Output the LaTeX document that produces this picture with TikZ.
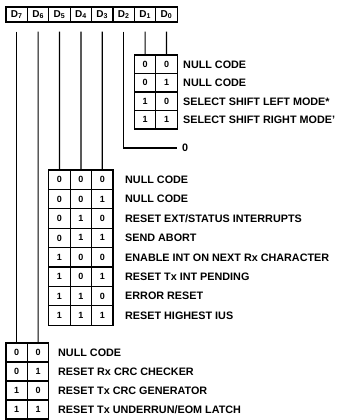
\documentclass[tikz,border=0pt]{standalone}
\usepackage{fontspec}
\setmainfont{Liberation Sans}
\begin{document}
\begin{tikzpicture}[x=1pt,y=-1pt,
  hdr/.style={draw,line width=1.3pt,minimum width=21.4pt,minimum height=15pt,inner sep=0pt,font=\bfseries\fontsize{10}{10}\selectfont},
  cell/.style={draw,line width=1.3pt,minimum width=21.4pt,minimum height=#1,inner sep=0pt,font=\bfseries\fontsize{9}{9}\selectfont},
  lbl/.style={anchor=west,inner sep=0pt,text height=7.7pt,text depth=0pt,font=\bfseries\fontsize{10.8}{11}\selectfont},
  wire/.style={line width=1.2pt}]
\useasboundingbox (0,0) rectangle (339,420);
% header
\foreach \i [count=\k from 0] in {7,6,5,4,3,2,1,0}
  \node[hdr] (h\i) at ({16.7+21.4*\k},14.5) {D\textsubscript{\i}};
\foreach \i in {7,6,5,4,3,2,1,0}
  \coordinate (s\i) at ([yshift=-9pt]h\i.south);
% table 1 (D1 D0)
\foreach \r/\a/\b/\t [count=\k from 0] in {0/0/0/{NULL CODE},1/0/1/{NULL CODE},2/1/0/{SELECT SHIFT LEFT MODE*},3/1/1/{SELECT SHIFT RIGHT MODE'}}{
  \node[cell=18.5pt] (ta\r c0) at (145.1,{55+18.5*(\k+0.5)}) {\a};
  \node[cell=18.5pt] (ta\r c1) at (166.5,{55+18.5*(\k+0.5)}) {\b};
  \node[lbl] (la\r) at (183,{55+18.5*(\k+0.5)}) {\t};
}
\draw[wire] (s1) -- (ta0c0.north);
\draw[wire] (s0) -- (ta0c1.north);
% D2
\node[lbl] (z) at (182,148) {0};
\draw[wire] (s2) |- ([xshift=-5pt]z.west);
% table 2 (D5 D4 D3)
\foreach \r/\a/\b/\c/\t [count=\k from 0] in {
  0/0/0/0/{NULL CODE},
  1/0/0/1/{NULL CODE},
  2/0/1/0/{RESET EXT/STATUS INTERRUPTS},
  3/0/1/1/{SEND ABORT},
  4/1/0/0/{ENABLE INT ON NEXT Rx CHARACTER},
  5/1/0/1/{RESET Tx INT PENDING},
  6/1/1/0/{ERROR RESET},
  7/1/1/1/{RESET HIGHEST IUS}}{
  \node[cell=19.4pt] (tb\r c0) at (59.5,{170+19.4*(\k+0.5)}) {\a};
  \node[cell=19.4pt] (tb\r c1) at (80.9,{170+19.4*(\k+0.5)}) {\b};
  \node[cell=19.4pt] (tb\r c2) at (102.3,{170+19.4*(\k+0.5)}) {\c};
  \node[lbl] (lb\r) at (125,{170+19.4*(\k+0.5)}) {\t};
}
\draw[wire] (s5) -- (tb0c0.north);
\draw[wire] (s4) -- (tb0c1.north);
\draw[wire] (s3) -- (tb0c2.north);
% table 3 (D7 D6)
\foreach \r/\a/\b/\t [count=\k from 0] in {0/0/0/{NULL CODE},1/0/1/{RESET Rx CRC CHECKER},2/1/0/{RESET Tx CRC GENERATOR},3/1/1/{RESET Tx UNDERRUN/EOM LATCH}}{
  \node[cell=19pt] (tc\r c0) at (16.7,{343+19*(\k+0.5)}) {\a};
  \node[cell=19pt] (tc\r c1) at (38.1,{343+19*(\k+0.5)}) {\b};
  \node[lbl] (lc\r) at (58,{343+19*(\k+0.5)}) {\t};
}
\draw[wire] (s7) -- (tc0c0.north);
\draw[wire] (s6) -- (tc0c1.north);
\end{tikzpicture}
\end{document}
